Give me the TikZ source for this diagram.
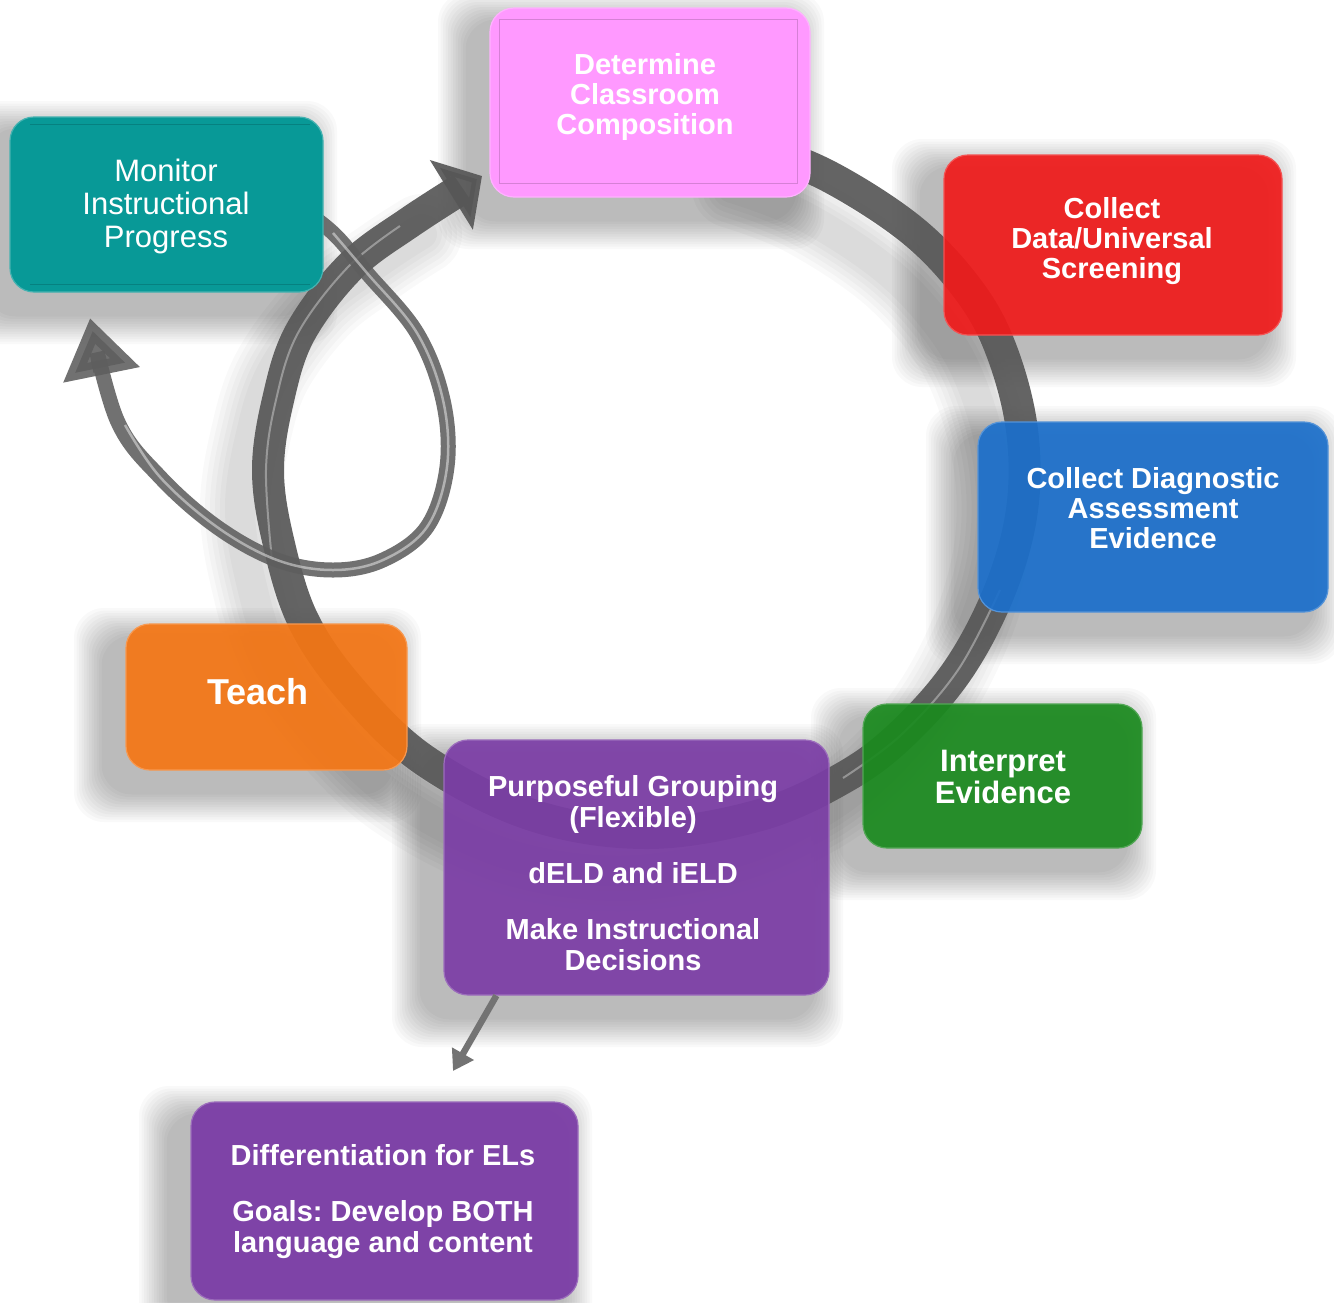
\documentclass[tikz,border=0pt]{standalone}
\usepackage{fontspec}
\setmainfont{Liberation Sans}
\usetikzlibrary{arrows.meta}
\definecolor{teal1}{HTML}{089997}
\definecolor{pink1}{HTML}{FF99FF}
\definecolor{red1}{HTML}{F01A1A}
\definecolor{blue1}{HTML}{1B6FCB}
\definecolor{green1}{HTML}{1A8A1E}
\definecolor{orange1}{HTML}{F57614}
\definecolor{purple1}{HTML}{7B3DA6}
\definecolor{ringgray}{HTML}{575757}
\definecolor{loopgray}{HTML}{5E5E5E}
\newcommand\softshadow[4]{%
  \foreach \k in {1,...,12}{%
    \fill[black, opacity=0.024, rounded corners=30pt]
      ({#1-22-2.5*\k},{#2+14-2.5*\k}) rectangle ({#3-16+2.5*\k},{#4+22+2.5*\k});
  }}
\begin{document}
\frenchspacing
\begin{tikzpicture}[x=1pt,y=-1pt,
  box/.style={draw=#1!75!white, line width=1.2pt, fill=#1, fill opacity=0.92,
              rounded corners=24pt, inner sep=0pt},
  txt/.style={text=white, align=center, font=\fontsize{29}{30}\selectfont\bfseries},
  ringline/.style={draw=ringgray, line width=32pt, opacity=0.92},
  loopline/.style={draw=loopgray, line width=15pt, opacity=0.88}]
\useasboundingbox (0,0) rectangle (1334,1302);
\fill[white] (0,0) rectangle (1334,1302);

% box shadows
\softshadow{10}{117}{323}{292}
\softshadow{490}{8}{810}{197}
\softshadow{944}{155}{1282}{335}
\softshadow{978}{422}{1328}{612}
\softshadow{863}{704}{1142}{848}
\softshadow{126}{624}{407}{770}
\softshadow{444}{740}{829}{995}
\softshadow{191}{1102}{578}{1300}

% ring shadow
\begin{scope}[xshift=-28pt, yshift=-38pt]
\foreach \w in {80,70,60,50,40,30}{
\draw[black, opacity=0.022, line width=\w pt, line cap=round]
  plot[smooth, tension=0.6] coordinates {(760,150) (830,177) (913,231) (970,292) (1002,352)
   (1022,430) (1022,510) (1000,590) (958,670) (901,735) (843,778) (760,815) (647,833)
   (532,815) (424,760) (351,690) (303,620) (278,540) (268,470) (278,400) (300,333)
   (350,267) (410,222) (450,196)};
}
\end{scope}

% main ring
\draw[ringline, -{Triangle[length=36pt,width=80pt]}]
  plot[smooth, tension=0.6] coordinates {(700,140) (760,150) (830,177) (913,231) (970,292) (1002,352)
   (1022,430) (1022,510) (1000,590) (958,670) (901,735) (843,778) (760,815) (647,833)
   (532,815) (424,760) (351,690) (303,620) (278,540) (268,470) (278,400) (300,333)
   (350,267) (410,222) (482,176)};
\draw[white, line width=2pt, opacity=0.35]
  plot[smooth, tension=0.6] coordinates {(1000,590) (958,670) (901,735) (843,778)};
\draw[white, line width=2pt, opacity=0.35]
  plot[smooth, tension=0.6] coordinates {(272,560) (266,470) (276,400) (298,333) (348,267) (400,226)};

% loop arrow
\draw[loopline, -{Triangle[length=58pt,width=74pt]}]
  plot[smooth, tension=0.6] coordinates {(290,200) (333,233) (367,273) (417,333) (443,400)
   (447,467) (427,527) (383,560) (333,570) (277,560) (217,527) (160,477) (117,420) (90,318)};
\draw[white, line width=2.5pt, opacity=0.45]
  plot[smooth, tension=0.6] coordinates {(333,233) (367,273) (417,333) (443,400)
   (447,467) (427,527) (383,560) (333,570) (277,560) (217,527) (160,477) (125,425)};

% boxes
\node[box=teal1, fill opacity=1, minimum width=313pt, minimum height=175pt] (mon) at (166.5,204.5) {};
\draw[teal1!70!black, opacity=0.5] (30,124) -- (310,124) (30,284) -- (310,284);
\node[box=pink1, fill opacity=1, minimum width=320pt, minimum height=189pt] (det) at (650,102.5) {};
\draw[pink1!65!black, opacity=0.45] (499,19) rectangle (797,183);
\node[box=red1, minimum width=338pt, minimum height=180pt] (col) at (1113,245) {};
\node[box=blue1, minimum width=350pt, minimum height=190pt] (diag) at (1153,517) {};
\node[box=green1, minimum width=279pt, minimum height=144pt] (int) at (1002.5,776) {};
\node[box=orange1, minimum width=281pt, minimum height=146pt] (teach) at (266.5,697) {};
\node[box=purple1, minimum width=385pt, minimum height=255pt] (grp) at (636.5,867.5) {};
\node[box=purple1, fill opacity=0.95, minimum width=387pt, minimum height=198pt] (diff) at (384.5,1201) {};

% texts
\node[txt, font=\fontsize{31}{33}\selectfont] (monT) at (166,206) {Monitor\\Instructional\\Progress};
\node[txt] (detT) at (645,97) {Determine\\Classroom\\Composition};
\node[txt] (colT) at (1112,241) {Collect\\Data/Universal\\Screening};
\node[txt] (diagT) at (1153,508) {Collect Diagnostic\\Assessment\\Evidence};
\node[txt, font=\fontsize{31}{32}\selectfont\bfseries] (intT) at (1003,777) {Interpret\\Evidence};
\node[txt, font=\fontsize{36}{38}\selectfont\bfseries] (teachT) at (258,692) {Teach};
\node[txt, font=\fontsize{29}{31}\selectfont\bfseries] (grpT) at (633,873)
  {Purposeful Grouping\\(Flexible)\\[25pt]dELD and iELD\\[25pt]Make Instructional\\Decisions};
\node[txt, font=\fontsize{29}{31}\selectfont\bfseries] (diffT) at (383,1202)
  {Differentiation for ELs\\[25pt]Goals: Develop BOTH\\language and content};

% small arrow
\coordinate (arrE) at (453,1071);
\draw[draw=black!55, line width=6.5pt, -{Triangle[length=20pt,width=24pt]}]
  ([xshift=53pt]grp.south west) -- (arrE);
\end{tikzpicture}
\end{document}
